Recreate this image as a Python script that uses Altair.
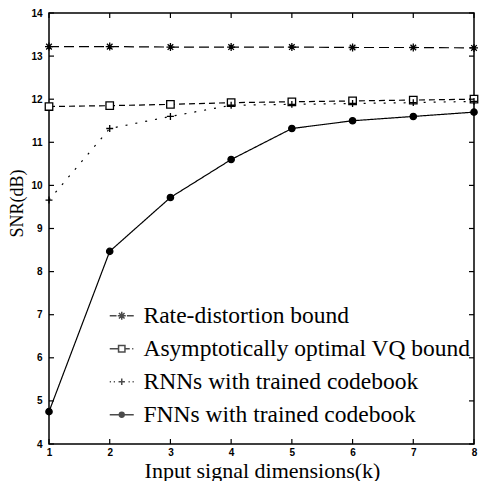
import altair as alt
import pandas as pd

# ---------------- data ----------------
k_values = [1, 2, 3, 4, 5, 6, 7, 8]
series_names = [
    "Rate-distortion bound",
    "Asymptotically optimal VQ bound",
    "RNNs with trained codebook",
    "FNNs with trained codebook",
]
rate_distortion = [13.22, 13.22, 13.21, 13.21, 13.21, 13.20, 13.20, 13.19]
vq_bound = [11.83, 11.85, 11.88, 11.92, 11.94, 11.96, 11.98, 12.00]
rnn_trained = [9.66, 11.32, 11.60, 11.86, 11.88, 11.90, 11.92, 11.95]
fnn_trained = [4.75, 8.47, 9.72, 10.60, 11.32, 11.50, 11.60, 11.70]

x_ticks = [1, 2, 3, 4, 5, 6, 7, 8]
y_ticks = [4, 5, 6, 7, 8, 9, 10, 11, 12, 13, 14]

# ---------------- styles ----------------
W, H = 425, 431
TICK = 5
dash_range = [[10, 5], [6, 4], [2, 8], [1, 0]]
width_range = [1.2, 1.2, 1.4, 1.8]
ast = "M-1,0H1M0,-1V1M-0.7,-0.7L0.7,0.7M-0.7,0.7L0.7,-0.7"
plus = "M-1,0H1M0,-1V1"
point_shapes = [ast, "square", plus, "circle"]
point_sizes = [64, 40, 36, 30]
point_fills = ["white", "white", "white", "black"]

legend_paths = [
    "M-3,0H-1.3M-1,0H1M0,-1V1M-0.7,-0.7L0.7,0.7M-0.7,0.7L0.7,-0.7M1.3,0H3",
    "M-3,0H-0.8M-0.8,-0.8H0.8V0.8H-0.8ZM0.8,0H2M2.6,0H2.9",
    "M-3,0H-2.7M-2,0H-1.7M-0.8,0H0.8M0,-0.8V0.8M1.7,0H2M2.7,0H3",
    "M-3,0H3M-0.6,0A0.6,0.6 0 1,0 0.6,0A0.6,0.6 0 1,0 -0.6,0"
    "M-0.25,0A0.25,0.25 0 1,0 0.25,0A0.25,0.25 0 1,0 -0.25,0",
]

rows = []
for name, vals in zip(series_names, [rate_distortion, vq_bound, rnn_trained, fnn_trained]):
    for kk, v in zip(k_values, vals):
        rows.append({"k": kk, "snr": v, "series": name})
df = pd.DataFrame(rows)
xt = pd.DataFrame({"k": x_ticks})
yt = pd.DataFrame({"snr": y_ticks})

xscale = alt.Scale(domain=[1, 8], nice=False, zero=False)
yscale = alt.Scale(domain=[4, 14], nice=False, zero=False)


def x_axis():
    return alt.Axis(
        values=x_ticks, format="d", ticks=False, domain=False, grid=False,
        labelFont="Liberation Sans", labelFontWeight="bold", labelFontSize=10,
        labelColor="black", labelPadding=3, labelFlush=False,
        title="Input signal dimensions(k)", titleFont="Liberation Serif",
        titleFontSize=22, titleFontWeight="normal", titleColor="black",
        titleBaseline="alphabetic", titleY=33, titleX=213,
    )


def y_axis():
    return alt.Axis(
        values=y_ticks, format="d", ticks=False, domain=False, grid=False,
        labelFont="Liberation Sans", labelFontWeight="bold", labelFontSize=10,
        labelColor="black", labelPadding=7, labelFlush=False,
        title="SNR(dB)", titleFont="Liberation Serif", titleFontSize=18,
        titleFontWeight="normal", titleColor="black", titleAngle=270,
        titleBaseline="alphabetic", titleAlign="center", titleX=-27, titleY=190,
    )


def X():
    return alt.X("k:Q", scale=xscale, axis=x_axis())


def Y():
    return alt.Y("snr:Q", scale=yscale, axis=y_axis())


lines = alt.Chart(df).mark_line(color="black").encode(
    x=X(), y=Y(),
    strokeDash=alt.StrokeDash("series:N", scale=alt.Scale(domain=series_names, range=dash_range), legend=None),
    strokeWidth=alt.StrokeWidth("series:N", scale=alt.Scale(domain=series_names, range=width_range), legend=None),
)

points = alt.Chart(df).mark_point(stroke="black", strokeWidth=1.3, opacity=1).encode(
    x=X(), y=Y(),
    shape=alt.Shape("series:N", scale=alt.Scale(domain=series_names, range=point_shapes), legend=None),
    size=alt.Size("series:N", scale=alt.Scale(domain=series_names, range=point_sizes), legend=None),
    fill=alt.Fill("series:N", scale=alt.Scale(domain=series_names, range=point_fills), legend=None),
)

legend_layer = alt.Chart(df).transform_filter("false").mark_point(filled=False, stroke="black").encode(
    x=X(), y=Y(),
    shape=alt.Shape(
        "series:N",
        scale=alt.Scale(domain=series_names, range=legend_paths),
        legend=alt.Legend(
            orient="none", legendX=61, legendY=291, title=None, padding=0,
            labelFont="Liberation Serif", labelFontSize=23.5, labelColor="black",
            labelLimit=500, labelOffset=10, rowPadding=8,
            symbolSize=64, symbolStrokeWidth=1.5, symbolStrokeColor="black",
            symbolFillColor="transparent",
        ),
    ),
)

tick_bottom = alt.Chart(xt).mark_rule(color="black", strokeWidth=1.2).encode(
    x=X(), y=alt.value(H), y2=alt.value(H - TICK))
tick_top = alt.Chart(xt).mark_rule(color="black", strokeWidth=1.2).encode(
    x=X(), y=alt.value(0), y2=alt.value(TICK))
tick_left = alt.Chart(yt).mark_rule(color="black", strokeWidth=1.2).encode(
    y=Y(), x=alt.value(0), x2=alt.value(TICK))
tick_right = alt.Chart(yt).mark_rule(color="black", strokeWidth=1.2).encode(
    y=Y(), x=alt.value(W), x2=alt.value(W - TICK))

chart = alt.layer(
    lines, points, tick_bottom, tick_top, tick_left, tick_right, legend_layer
).resolve_scale(
    shape="independent"
).properties(
    width=W, height=H,
    padding={"left": 41, "top": 5, "right": 5, "bottom": 37},
    autosize=alt.AutoSizeParams(type="none"),
    background="white",
).configure_view(
    stroke="black", strokeWidth=1.5
)

chart.save("out.html", embed_options={"renderer": "svg", "actions": False})
